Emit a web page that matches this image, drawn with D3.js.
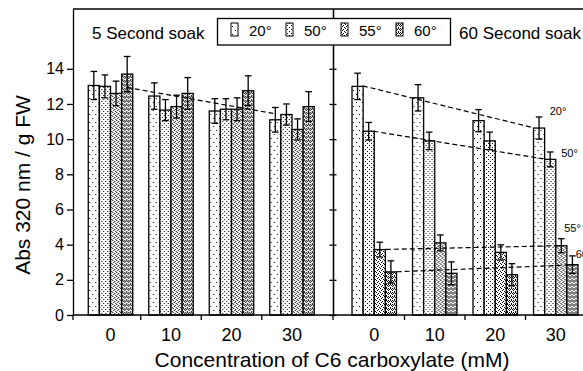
<html>
<head>
  <meta charset="utf-8">
  <title>Abs 320 nm</title>
  <style>
    body { margin: 0; background: #fff; }
    text { font-family: "Liberation Sans", Arial, sans-serif; fill: #000; }
  </style>
</head>
<body>
  <script src="https://d3js.org/d3.v7.min.js"></script>
  <script>
    // data
    var concs = ["0", "10", "20", "30"]
    var temps = ["20°", "50°", "55°", "60°"]
    var yTicks = [0, 2, 4, 6, 8, 10, 12, 14]

    // 5 second soak: rows = concentration, cols = temperature
    var soak5 = [
      [13.05, 13.0, 12.6, 13.7],
      [12.45, 11.65, 11.85, 12.6],
      [11.6, 11.7, 11.7, 12.75],
      [11.1, 11.4, 10.55, 11.85]
    ]
    var soak5Err = [
      [0.8, 0.65, 0.7, 1.0],
      [0.75, 0.6, 0.65, 0.9],
      [0.7, 0.6, 0.65, 0.85],
      [0.7, 0.6, 0.6, 0.85]
    ]
    // 60 second soak
    var soak60 = [
      [13.0, 10.45, 3.72, 2.45],
      [12.35, 9.9, 4.1, 2.37],
      [11.05, 9.9, 3.56, 2.29],
      [10.63, 8.85, 3.94, 2.86]
    ]
    var soak60Err = [
      [0.75, 0.5, 0.42, 0.63],
      [0.75, 0.5, 0.45, 0.65],
      [0.63, 0.5, 0.43, 0.63],
      [0.63, 0.42, 0.4, 0.5]
    ]

    // dashed trend lines, [concentration, value] end points
    var trend5 = [[2.7, 12.94], [26.9, 11.46]]
    var trend60 = [
      [[-1.9, 13.03], [26.4, 10.64]],
      [[-0.15, 10.45], [27.9, 8.88]],
      [[1.9, 3.73], [30.4, 3.94]],
      [[3.7, 2.46], [32.1, 2.84]]
    ]
    var trendLabels = [[29.0, 11.36], [30.9, 8.96], [31.4, 4.73], [33.3, 3.22]]

    var width = 583, height = 371
    var plotL = 73, plotT = 9, plotB = 315, divider = 333

    var svg = d3.select("body").append("svg")
      .attr("width", width)
      .attr("height", height)

    // fill patterns
    var defs = svg.append("defs")
    function pattern(id, w, h, dots) {
      var p = defs.append("pattern")
        .attr("id", id)
        .attr("patternUnits", "userSpaceOnUse")
        .attr("width", w).attr("height", h)
      p.append("rect").attr("width", w).attr("height", h).attr("fill", "#fff")
      dots.forEach(function (d) {
        p.append("rect").attr("x", d[0]).attr("y", d[1])
          .attr("width", 1).attr("height", 1).attr("fill", "#000")
      })
    }
    pattern("p0", 6, 8, [[1, 2], [4, 6]])
    pattern("p1", 4, 4, [[1, 1], [3, 3]])
    pattern("p2", 4, 4, [[0, 0], [2, 1], [1, 2], [3, 3]])
    pattern("p3", 4, 4, [[0, 0], [2, 0], [1, 1], [3, 1], [0, 2], [2, 3]])

    var y = d3.scaleLinear().domain([0, 17.4]).range([plotB, plotT])

    var xLeft = d3.scaleBand().domain(concs).range([80.25, 322.25])
      .paddingInner(0.265).paddingOuter(0.1325)
    var xRight = d3.scaleBand().domain(concs).range([344, 586])
      .paddingInner(0.265).paddingOuter(0.1325)
    var xTemp = d3.scaleBand().domain(temps).range([0, xLeft.bandwidth()])

    function concScale(xb) {
      return d3.scaleLinear().domain([0, 30])
        .range([xb("0") + xb.bandwidth() / 2, xb("30") + xb.bandwidth() / 2])
    }

    function drawPanel(xb, vals, errs) {
      var g = svg.append("g")
      concs.forEach(function (c, i) {
        var grp = g.append("g").attr("transform", "translate(" + xb(c) + ",0)")
        grp.selectAll("rect")
          .data(vals[i])
          .enter()
          .append("rect")
          .attr("x", (d, j) => xTemp(temps[j]))
          .attr("y", d => y(d))
          .attr("width", xTemp.bandwidth())
          .attr("height", d => y(0) - y(d))
          .attr("fill", (d, j) => "url(#p" + j + ")")
          .attr("stroke", "#000")
          .attr("stroke-width", 1.3)
        var eb = grp.selectAll(".err")
          .data(vals[i])
          .enter()
          .append("g")
          .attr("class", "err")
          .attr("stroke", "#000")
          .attr("stroke-width", 1.3)
        var cx = j => xTemp(temps[j]) + xTemp.bandwidth() / 2
        eb.append("line")
          .attr("x1", (d, j) => cx(j)).attr("x2", (d, j) => cx(j))
          .attr("y1", (d, j) => y(d + errs[i][j])).attr("y2", (d, j) => y(d - errs[i][j]))
        eb.append("line")
          .attr("x1", (d, j) => cx(j) - 3.3).attr("x2", (d, j) => cx(j) + 3.3)
          .attr("y1", (d, j) => y(d + errs[i][j])).attr("y2", (d, j) => y(d + errs[i][j]))
        eb.append("line")
          .attr("x1", (d, j) => cx(j) - 3.3).attr("x2", (d, j) => cx(j) + 3.3)
          .attr("y1", (d, j) => y(d - errs[i][j])).attr("y2", (d, j) => y(d - errs[i][j]))
      })
    }

    drawPanel(xLeft, soak5, soak5Err)
    drawPanel(xRight, soak60, soak60Err)

    // trend lines
    var line5 = d3.line().x(d => concScale(xLeft)(d[0])).y(d => y(d[1]))
    var line60 = d3.line().x(d => concScale(xRight)(d[0])).y(d => y(d[1]))
    svg.append("path")
      .attr("d", line5(trend5))
      .attr("fill", "none").attr("stroke", "#000")
      .attr("stroke-width", 1.2).attr("stroke-dasharray", "5,3")
    svg.selectAll(".trend60")
      .data(trend60)
      .enter()
      .append("path")
      .attr("class", "trend60")
      .attr("d", d => line60(d))
      .attr("fill", "none").attr("stroke", "#000")
      .attr("stroke-width", 1.2).attr("stroke-dasharray", "5,3")
    svg.selectAll(".tlabel")
      .data(trendLabels)
      .enter()
      .append("text")
      .attr("class", "tlabel")
      .attr("x", d => concScale(xRight)(d[0]))
      .attr("y", d => y(d[1]))
      .attr("font-size", 11)
      .text((d, i) => temps[i])

    // frame
    svg.append("line").attr("x1", plotL).attr("x2", width).attr("y1", plotT).attr("y2", plotT)
      .attr("stroke", "#000").attr("stroke-width", 1.3)
    svg.append("line").attr("x1", plotL).attr("x2", width).attr("y1", plotB).attr("y2", plotB)
      .attr("stroke", "#000").attr("stroke-width", 1.3)

    // y axis
    var yAxis = svg.append("g")
      .attr("transform", "translate(" + plotL + ",0)")
      .call(d3.axisLeft(y).tickValues(yTicks).tickSize(6).tickSizeOuter(0).tickPadding(3))
    yAxis.selectAll("text").attr("font-size", 16).style("font-family", "Liberation Sans, Arial")
    yAxis.selectAll("line,path").attr("stroke-width", 1.3)

    // divider with ticks on both sides
    var d1 = svg.append("g").attr("transform", "translate(" + divider + ",0)")
      .call(d3.axisLeft(y).tickValues(yTicks).tickSize(3.5).tickSizeOuter(0).tickFormat(""))
    var d2 = svg.append("g").attr("transform", "translate(" + divider + ",0)")
      .call(d3.axisRight(y).tickValues(yTicks).tickSize(3.5).tickSizeOuter(0).tickFormat(""))
    d1.selectAll("line,path").attr("stroke-width", 1.3)
    d2.selectAll("line,path").attr("stroke-width", 1.3)

    // x labels and separator ticks
    ;[xLeft, xRight].forEach(function (xb) {
      var ax = svg.append("g")
        .attr("transform", "translate(0," + plotB + ")")
        .call(d3.axisBottom(xb).tickSize(0).tickPadding(13))
      ax.select(".domain").remove()
      ax.selectAll("text").attr("font-size", 18).style("font-family", "Liberation Sans, Arial")
      var seps = concs.slice(1).map(c => xb(c) - xb.step() * xb.paddingInner() / 2)
      svg.selectAll(null)
        .data(seps)
        .enter()
        .append("line")
        .attr("x1", d => d).attr("x2", d => d)
        .attr("y1", plotB).attr("y2", plotB + 5)
        .attr("stroke", "#000").attr("stroke-width", 1.3)
    })
    svg.selectAll(null)
      .data([plotL, divider])
      .enter()
      .append("line")
      .attr("x1", d => d).attr("x2", d => d)
      .attr("y1", plotB).attr("y2", plotB + 5)
      .attr("stroke", "#000").attr("stroke-width", 1.3)

    // axis titles
    svg.append("text")
      .attr("x", 332).attr("y", 367)
      .attr("text-anchor", "middle")
      .attr("font-size", 21)
      .text("Concentration of C6 carboxylate (mM)")
    svg.append("text")
      .attr("transform", "translate(30,185) rotate(-90)")
      .attr("text-anchor", "middle")
      .attr("font-size", 21)
      .text("Abs 320 nm / g FW")

    // panel titles
    svg.append("text").attr("x", 92).attr("y", 39).attr("font-size", 17).text("5 Second soak")
    svg.append("text").attr("x", 459).attr("y", 39).attr("font-size", 17).text("60 Second soak")

    // legend
    var lg = svg.append("g")
    lg.append("rect")
      .attr("x", 217.5).attr("y", 18.5).attr("width", 233).attr("height", 26.5)
      .attr("fill", "#fff").attr("stroke", "#000").attr("stroke-width", 1.3)
    var items = lg.selectAll(".item")
      .data(temps)
      .enter()
      .append("g")
      .attr("class", "item")
      .attr("transform", (d, i) => "translate(" + (231 + i * 55) + ",0)")
    items.append("rect")
      .attr("x", 0).attr("y", 23).attr("width", 7).attr("height", 13)
      .attr("fill", (d, i) => "url(#p" + i + ")")
      .attr("stroke", "#000").attr("stroke-width", 1)
    items.append("text")
      .attr("x", 18).attr("y", 36)
      .attr("font-size", 15)
      .text(d => d)
  </script>
</body>
</html>
